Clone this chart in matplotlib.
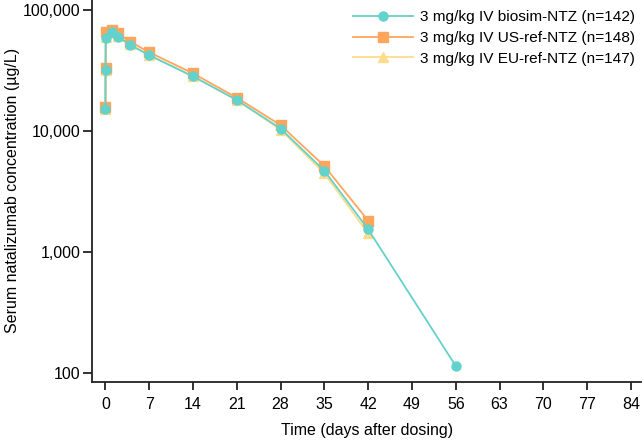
import matplotlib
matplotlib.use("Agg")
import matplotlib.pyplot as plt
from matplotlib.ticker import FixedLocator, NullLocator

plt.rcParams['font.family'] = ['Liberation Sans', 'DejaVu Sans']

days = [0.0, 0.02, 0.05, 1, 2, 4, 7, 14, 21, 28, 35, 42]
days_biosim = [0.0, 0.02, 0.05, 1, 2, 4, 7, 14, 21, 28, 35, 42, 56]

biosim = [15200, 31800, 58400, 65500, 60300, 51400, 42300, 28300, 18100, 10500, 4710, 1545, 115]
us_ref = [15700, 33000, 66200, 68400, 64100, 54700, 44800, 30000, 18900, 11200, 5150, 1820]
eu_ref = [15300, 32000, 60000, 66000, 61000, 52000, 42500, 28500, 18000, 10300, 4480, 1430]

labels = ["3 mg/kg IV biosim-NTZ (n=142)",
          "3 mg/kg IV US-ref-NTZ (n=148)",
          "3 mg/kg IV EU-ref-NTZ (n=147)"]

xticks = [0, 7, 14, 21, 28, 35, 42, 49, 56, 63, 70, 77, 84]
yticks = [100, 1000, 10000, 100000]
yticklabels = ["100", "1,000", "10,000", "100,000"]

c_bio = "#62D2CC"
c_us = "#FFA65C"
c_eu = "#FDDC8C"

fig = plt.figure(figsize=(6.44, 4.45), dpi=100)
ax = fig.add_axes([0.1433, 0.1422, 0.852, 0.8578])

ax.plot(days, eu_ref, color=c_eu, marker='^', markersize=7, lw=1.3, label=labels[2], zorder=2)
ax.plot(days, us_ref, color=c_us, marker='s', markersize=6.5, lw=1.3, label=labels[1], zorder=3)
ax.plot(days_biosim, biosim, color=c_bio, marker='o', markersize=6.5, lw=1.3, label=labels[0], zorder=4)

ax.set_yscale('log')
ax.set_xlim(-2.1, 85.6)
ax.set_ylim(10 ** 1.931, 10 ** 5.083)
ax.yaxis.set_major_locator(FixedLocator(yticks))
ax.yaxis.set_minor_locator(NullLocator())
ax.set_yticklabels(yticklabels)
ax.set_xticks(xticks)

for s in ['top', 'right']:
    ax.spines[s].set_visible(False)
for s in ['left', 'bottom']:
    ax.spines[s].set_linewidth(1.3)
    ax.spines[s].set_color('#222222')
ax.tick_params(axis='y', length=6.5, width=1.3, color='#222222', labelsize=11.5, pad=2)
ax.tick_params(axis='x', length=6, width=1.3, color='#222222', labelsize=11.5, pad=5)

ax.set_xlabel("Time (days after dosing)", fontsize=11.5, labelpad=8)
ax.set_ylabel("Serum natalizumab concentration (µg/L)", fontsize=11.5, labelpad=2)

h, l = ax.get_legend_handles_labels()
order = [2, 1, 0]
ax.legend([h[i] for i in order], [l[i] for i in order], loc='upper right',
          frameon=False, fontsize=11.1, handlelength=3.9, handletextpad=0.45,
          labelspacing=0.45, borderaxespad=0.0, bbox_to_anchor=(1.0, 0.99))

fig.savefig("out.png", dpi=100)
